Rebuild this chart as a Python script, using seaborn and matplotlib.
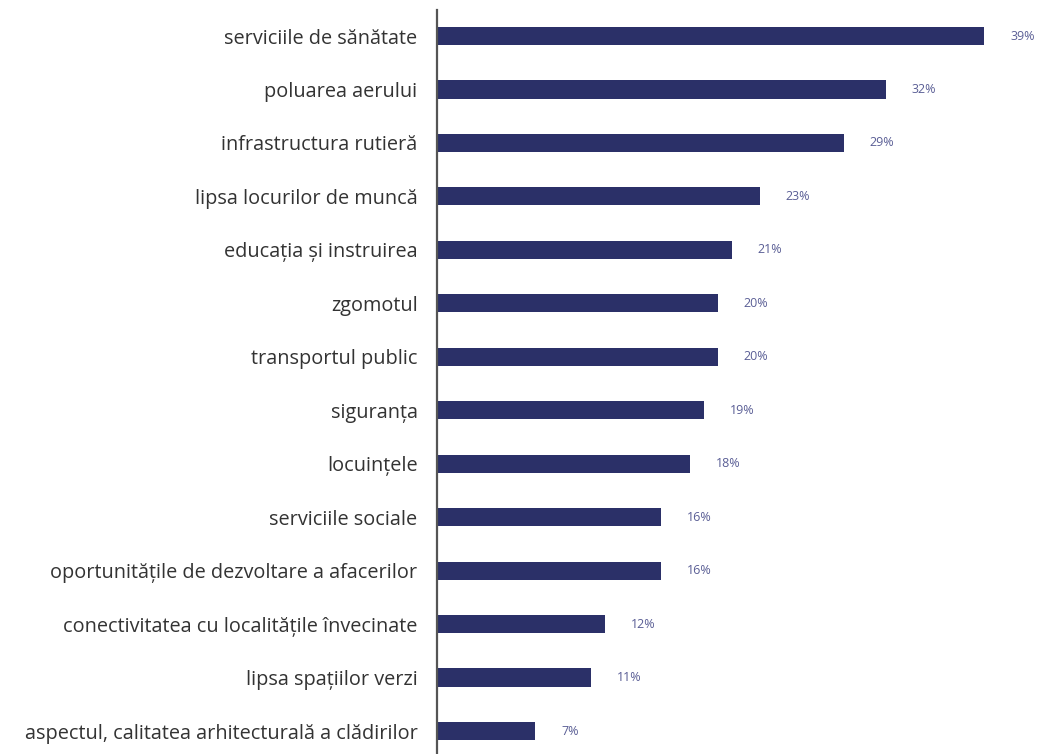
import matplotlib
matplotlib.use('Agg')
import pandas as pd
import seaborn as sns
import matplotlib.pyplot as plt

# data
categories = ['serviciile de sănătate', 'poluarea aerului', 'infrastructura rutieră',
              'lipsa locurilor de muncă', 'educația și instruirea', 'zgomotul',
              'transportul public', 'siguranța', 'locuințele', 'serviciile sociale',
              'oportunitățile de dezvoltare a afacerilor',
              'conectivitatea cu localitățile învecinate', 'lipsa spațiilor verzi',
              'aspectul, calitatea arhitecturală a clădirilor']
values = [39, 32, 29, 23, 21, 20, 20, 19, 18, 16, 16, 12, 11, 7]

df = pd.DataFrame({'cat': categories, 'val': values})

sns.set_style('white')
plt.rcParams['font.family'] = ['Open Sans', 'DejaVu Sans']

fig = plt.figure(figsize=(10.37, 7.54), dpi=100)
ax = fig.add_axes([0.4214, 0.0, 0.5786, 0.9867])

sns.barplot(data=df, y='cat', x='val', color='#2b3068', width=0.34,
            saturation=1, ax=ax, orient='h', linewidth=0)

ax.set_xlim(0, 42.77)
ax.set_ylim(13.43, -0.486)

# value labels
for i, v in enumerate(values):
    ax.text(v + 1.85, i, f'{v}%', va='center', ha='left',
            fontsize=9, color='#5a5e95')

sns.despine(ax=ax, top=True, right=True, bottom=True, left=False)
ax.spines['left'].set_color('#555555')
ax.spines['left'].set_linewidth(1.6)
ax.set_xticks([])
ax.set_xlabel('')
ax.set_ylabel('')
ax.tick_params(axis='y', length=0, pad=14, labelsize=14.3, labelcolor='#333333')

fig.savefig('out.png', dpi=100)
